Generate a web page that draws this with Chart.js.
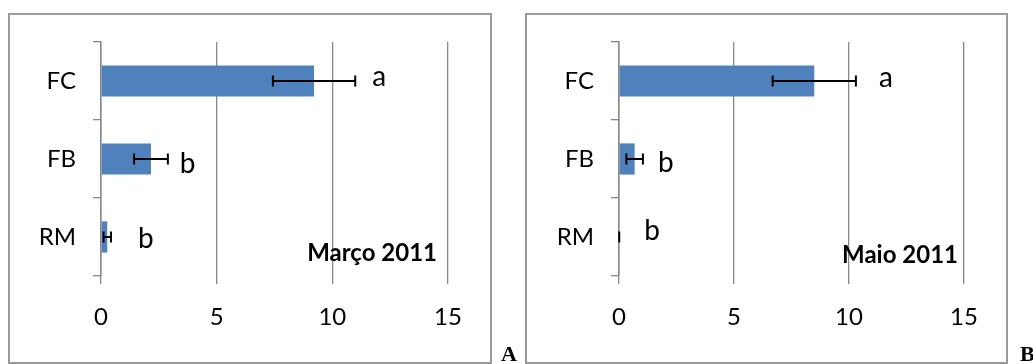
<!DOCTYPE html>
<html>
<head>
<meta charset="utf-8">
<script src="https://cdn.jsdelivr.net/npm/chart.js@4/dist/chart.umd.min.js"></script>
<style>
  body { margin: 0; background: #fff; width: 1033px; height: 364px; position: relative; overflow: hidden; }
  .caixa { position: absolute; border: 2px solid #9a9a9a; box-sizing: border-box; }
  .painel { position: absolute; top: 0; height: 364px; }
  .letra { position: absolute; font-family: "Liberation Serif", "DejaVu Serif", serif; font-weight: bold; font-size: 22px; color: #000; }
</style>
</head>
<body>
<div class="caixa" style="left:8px; top:13px; width:484px; height:351px;"></div>
<div class="caixa" style="left:525px; top:13px; width:483px; height:351px;"></div>
<div class="painel" style="left:0; width:516px;"><canvas id="graficoA" width="516" height="364"></canvas></div>
<div class="painel" style="left:516px; width:517px;"><canvas id="graficoB" width="517" height="364"></canvas></div>
<div class="letra" style="left:501px; top:341px;">A</div>
<div class="letra" style="left:1020px; top:341px;">B</div>

<script>
const categorias = ['FC', 'FB', 'RM'];
const ticksX = [0, 5, 10, 15];

// Março 2011
const mediasMarco = [9.21, 2.16, 0.27];
const errosMarco = [1.78, 0.73, 0.16];
const letrasMarco = ['a', 'b', 'b'];

// Maio 2011
const mediasMaio = [8.49, 0.68, 0.03];
const errosMaio = [1.81, 0.36, 0.02];
const letrasMaio = ['a', 'b', 'b'];

const fonte = 'Lato, "Open Sans", sans-serif';

const pluginErros = {
    id: 'barrasErro',
    afterDatasetsDraw(chart, args, opts) {
        const ctx = chart.ctx;
        const xs = chart.scales.x;
        const meta = chart.getDatasetMeta(0);
        ctx.save();
        meta.data.forEach((bar, i) => {
            const v = opts.medias[i];
            const e = opts.erros[i];
            const x1 = xs.getPixelForValue(v - e);
            const x2 = xs.getPixelForValue(v + e);
            const y = bar.y;
            ctx.strokeStyle = '#000';
            ctx.lineWidth = 2;
            ctx.beginPath();
            ctx.moveTo(x1, y); ctx.lineTo(x2, y);
            ctx.moveTo(x1, y - 5.5); ctx.lineTo(x1, y + 5.5);
            if (x2 - x1 > 2) {
                ctx.moveTo(x2, y - 5.5); ctx.lineTo(x2, y + 5.5);
            }
            ctx.stroke();

            // letras de significância
            ctx.fillStyle = '#000';
            ctx.font = '28px ' + fonte;
            ctx.textAlign = 'left';
            ctx.textBaseline = 'alphabetic';
            ctx.fillText(opts.letras[i], x2 + opts.dx[i], y + opts.dy[i]);
        });

        // título do mês
        const area = chart.chartArea;
        ctx.font = 'bold 24px ' + fonte;
        ctx.textAlign = 'right';
        ctx.fillText(opts.titulo, area.right - opts.tituloRecuo, opts.tituloY);
        ctx.restore();
    }
};

function criarGrafico(id, medias, erros, letras, extra) {
    const ctx = document.getElementById(id).getContext('2d');
    return new Chart(ctx, {
        type: 'bar',
        data: {
            labels: categorias,
            datasets: [{
                data: medias,
                backgroundColor: '#4F81BD',
                borderWidth: 0,
                barPercentage: 0.4,
                categoryPercentage: 1
            }]
        },
        plugins: [pluginErros],
        options: {
            indexAxis: 'y',
            responsive: false,
            animation: false,
            layout: { padding: { left: 0, right: extra.padDireita, top: 42, bottom: 28 } },
            plugins: {
                legend: { display: false },
                tooltip: { enabled: false },
                barrasErro: Object.assign({ medias, erros, letras }, extra)
            },
            scales: {
                x: {
                    min: 0, max: 15,
                    afterBuildTicks: (s) => { s.ticks = ticksX.map(v => ({ value: v })); },
                    afterFit: (s) => { s.height = 60; },
                    grid: { color: '#888', lineWidth: 1.3, tickLength: 8, drawTicks: true },
                    border: { display: false },
                    ticks: { color: '#000', font: { family: fonte, size: 24 }, padding: 19, maxRotation: 0 }
                },
                y: {
                    offset: true,
                    afterFit: (s) => { s.width = extra.larguraY; },
                    grid: { offset: true, drawOnChartArea: false, color: '#888', lineWidth: 1.3, tickLength: 8 },
                    border: { display: true, color: '#888', width: 1.5 },
                    ticks: { color: '#000', font: { family: fonte, size: 24 }, padding: 17 }
                }
            }
        }
    });
}

criarGrafico('graficoA', mediasMarco, errosMarco, letrasMarco, {
    padDireita: 68, larguraY: 101,
    dx: [17, 12, 27], dy: [4.5, 13.5, 10.5],
    titulo: 'Março 2011', tituloRecuo: 11, tituloY: 261
});
criarGrafico('graficoB', mediasMaio, errosMaio, letrasMaio, {
    padDireita: 69, larguraY: 103,
    dx: [23, 15, 24], dy: [5.5, 12.5, 2.5],
    titulo: 'Maio 2011', tituloRecuo: 6, tituloY: 263
});
</script>
</body>
</html>
